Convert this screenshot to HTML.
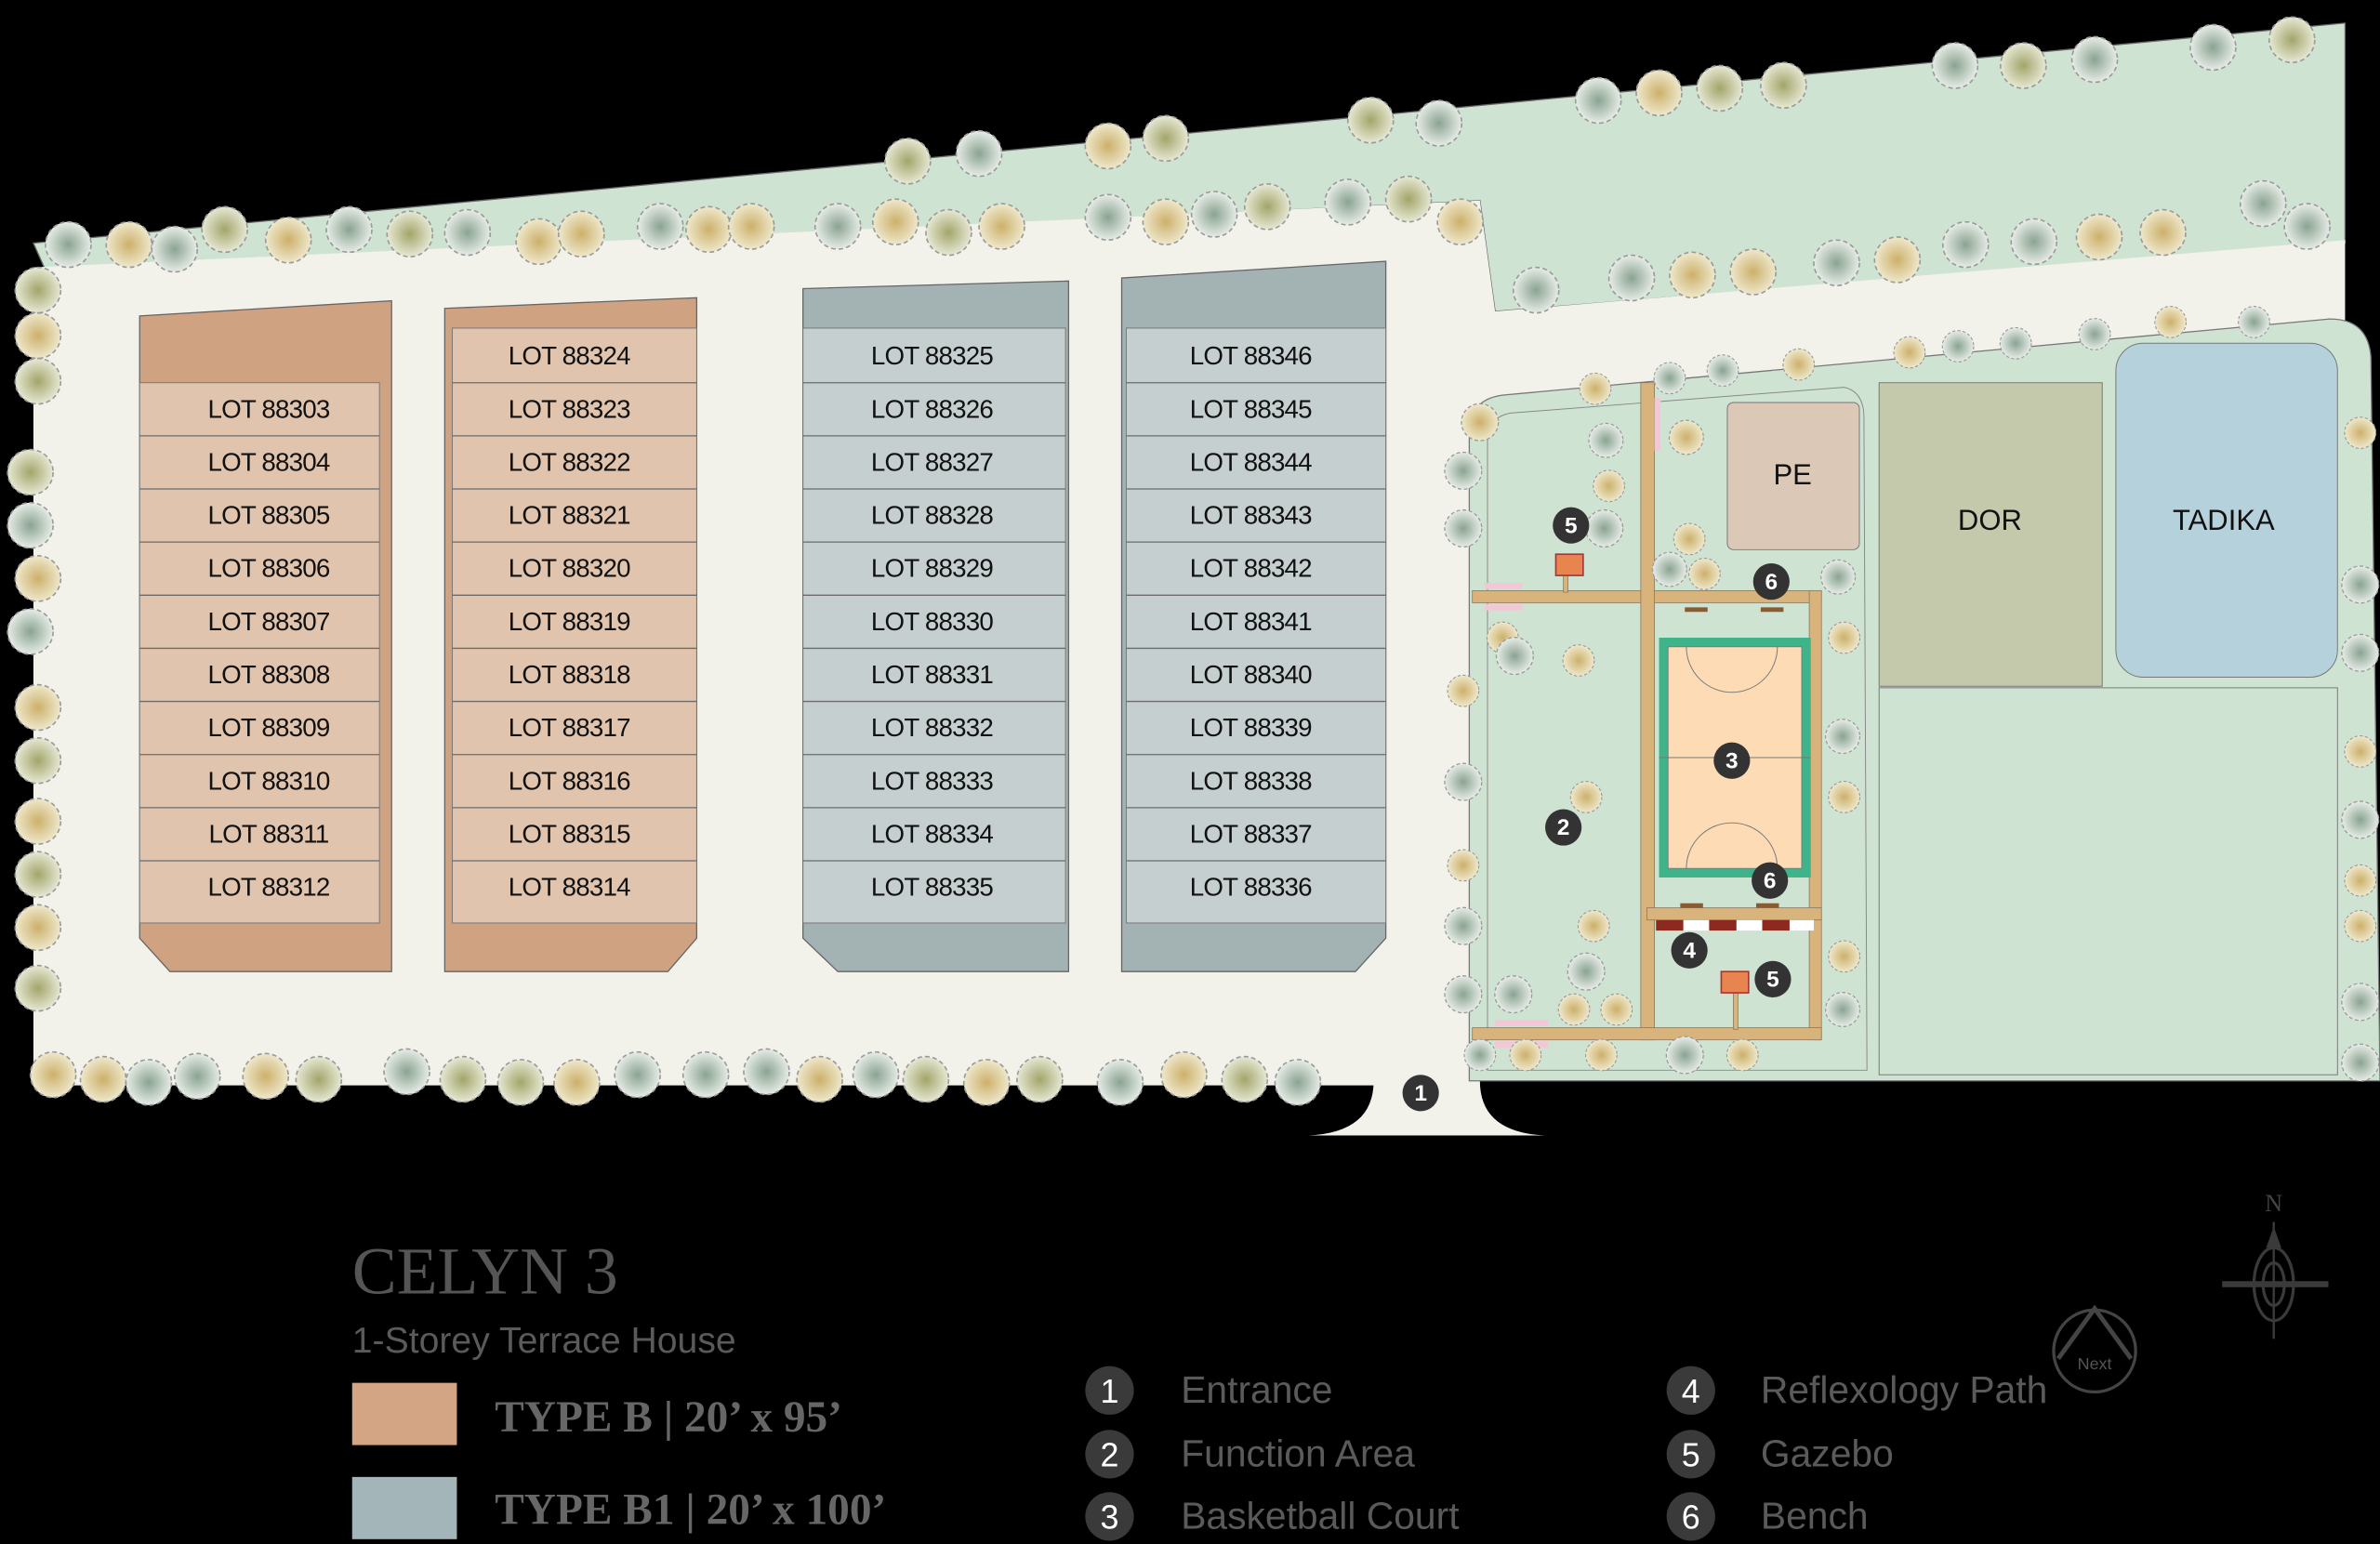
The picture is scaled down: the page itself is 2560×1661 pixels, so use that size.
<!DOCTYPE html>
<html><head><meta charset="utf-8"><style>
html,body{margin:0;padding:0;background:#000;}
svg{display:block;}
.lot{font-family:"Liberation Sans",sans-serif;font-size:17px;fill:#111;text-anchor:middle;letter-spacing:-0.5px;}
.bl{font-family:"Liberation Sans",sans-serif;font-size:19px;fill:#111;text-anchor:middle;}
.nm{font-family:"Liberation Sans",sans-serif;font-weight:bold;font-size:15px;fill:#fff;text-anchor:middle;}
.lg{font-family:"Liberation Sans",sans-serif;font-size:25px;fill:#5a5a5a;}
.ln{font-family:"Liberation Sans",sans-serif;font-size:22px;fill:#fff;text-anchor:middle;}
</style></head><body>
<svg width="2560" height="1661" viewBox="0 0 1568 1017" xmlns="http://www.w3.org/2000/svg">
<defs>
<radialGradient id="tg"><stop offset="0" stop-color="#8aa391"/><stop offset="1" stop-color="#e6ece6"/></radialGradient>
<radialGradient id="ty"><stop offset="0" stop-color="#cdb06a"/><stop offset="1" stop-color="#eee8cc"/></radialGradient>
<radialGradient id="to"><stop offset="0" stop-color="#a3a56a"/><stop offset="1" stop-color="#e6e8d4"/></radialGradient>
<symbol id="g" viewBox="-16 -16 32 32" overflow="visible"><circle r="15" fill="url(#tg)" stroke="#9a9a9a" stroke-width="1" stroke-dasharray="3 2"/></symbol>
<symbol id="y" viewBox="-16 -16 32 32" overflow="visible"><circle r="15" fill="url(#ty)" stroke="#9a9a9a" stroke-width="1" stroke-dasharray="3 2"/></symbol>
<symbol id="o" viewBox="-16 -16 32 32" overflow="visible"><circle r="15" fill="url(#to)" stroke="#9a9a9a" stroke-width="1" stroke-dasharray="3 2"/></symbol>
</defs>
<rect width="1568" height="1017" fill="#000"/>
<!-- green strip -->
<polygon points="22,160 1545,15 1545,160 985,205 975,132 30,178" fill="#cfe3d3" stroke="#666" stroke-width="0.8"/>
<!-- cream -->
<polygon points="22,176 975,132 985,205 1545,158 1545,240 968,320 968,715 22,715" fill="#f2f2eb"/>
<!-- entrance -->
<path d="M862,748 Q905,746 905,712 L975,712 Q975,746 1018,748 Z" fill="#f2f2eb"/>
<!-- park -->
<path d="M968,285 Q968,262 992,260 L1535,210 Q1560,210 1562,235 L1568,712 L968,712 Z" fill="#cfe3d3" stroke="#777" stroke-width="0.8"/>
<path d="M980,290 Q980,275 995,272 L1215,255 Q1228,258 1228,275 L1230,705 L980,705 Z" fill="none" stroke="#888" stroke-width="0.6"/>
<rect x="1138" y="265" width="87" height="97" fill="#dcc8b6" stroke="#777" stroke-width="0.6" rx="4"/>
<text class="bl" x="1181" y="319">PE</text>
<rect x="1238" y="252" width="147" height="200" fill="#c5c9ab" stroke="#777" stroke-width="0.6"/>
<text class="bl" x="1311" y="349">DOR</text>
<rect x="1394" y="226" width="146" height="220" rx="18" fill="#b5d2dc" stroke="#777" stroke-width="0.6"/>
<text class="bl" x="1465" y="349">TADIKA</text>
<rect x="1238" y="453" width="302" height="255" fill="#cfe3d3" stroke="#777" stroke-width="0.6"/>
<!-- paths -->
<g fill="#d8b37c" stroke="#8a7a60" stroke-width="0.5">
<rect x="970" y="389" width="230" height="8"/>
<rect x="1081" y="252" width="9" height="433"/>
<rect x="1192" y="389" width="8" height="296"/>
<rect x="1085" y="598" width="115" height="8"/>
<rect x="970" y="677" width="230" height="8"/>
<rect x="1030" y="375" width="3" height="15"/>
<rect x="1142" y="650" width="3" height="28"/>
</g>
<rect x="978" y="384" width="25" height="4" fill="#f3c8d6"/><rect x="978" y="398" width="25" height="4" fill="#f3c8d6"/>
<rect x="985" y="672" width="35" height="4" fill="#f3c8d6"/><rect x="985" y="686" width="35" height="4" fill="#f3c8d6"/>
<rect x="1090" y="262" width="4" height="35" fill="#f3c8d6"/>
<rect x="1025" y="365" width="18" height="14" fill="#e8844f" stroke="#a33" stroke-width="1"/>
<rect x="1134" y="640" width="18" height="14" fill="#e8844f" stroke="#a33" stroke-width="1"/>
<!-- court -->
<rect x="1093" y="420" width="100" height="158" fill="#3fb389"/>
<rect x="1099" y="426" width="88" height="146" fill="#fddcb5" stroke="#777" stroke-width="0.5"/>
<line x1="1093" y1="499" x2="1193" y2="499" stroke="#777" stroke-width="0.6"/>
<path d="M1111,426 A30,30 0 0 0 1171,426 M1111,572 A30,30 0 0 1 1171,572" fill="none" stroke="#777" stroke-width="0.6"/>
<!-- reflexology -->
<g><rect x="1091" y="606" width="104" height="7" fill="#fff"/>
<rect x="1091" y="606" width="18" height="7" fill="#8c2a1f"/><rect x="1126" y="606" width="18" height="7" fill="#8c2a1f"/><rect x="1161" y="606" width="18" height="7" fill="#8c2a1f"/></g>
<rect x="1110" y="400" width="15" height="3" fill="#8a5a30"/><rect x="1160" y="400" width="15" height="3" fill="#8a5a30"/>
<rect x="1107" y="595" width="15" height="3" fill="#8a5a30"/><rect x="1157" y="595" width="15" height="3" fill="#8a5a30"/>

<!-- block 1 -->
<polygon points="92,208 258,198 258,640 112,640 92,618" fill="#cfa282" stroke="#666" stroke-width="0.8"/>
<rect x="92" y="252" width="158" height="356" fill="#e0c4ad" stroke="#777" stroke-width="0.6"/>
<!-- block 2 -->
<polygon points="293,203 459,196 459,618 440,640 293,640" fill="#cfa282" stroke="#666" stroke-width="0.8"/>
<rect x="298" y="216" width="161" height="392" fill="#e0c4ad" stroke="#777" stroke-width="0.6"/>
<!-- block 3 -->
<polygon points="529,190 704,185 704,640 552,640 529,618" fill="#a3b3b4" stroke="#666" stroke-width="0.8"/>
<rect x="529" y="216" width="173" height="392" fill="#c5cfcf" stroke="#777" stroke-width="0.6"/>
<!-- block 4 -->
<polygon points="739,183 913,172 913,618 893,640 739,640" fill="#a3b3b4" stroke="#666" stroke-width="0.8"/>
<rect x="742" y="216" width="171" height="392" fill="#c5cfcf" stroke="#777" stroke-width="0.6"/>
<g stroke="#6b6b6b" stroke-width="0.8">
<line x1="92" y1="287" x2="250" y2="287"/><line x1="92" y1="322" x2="250" y2="322"/><line x1="92" y1="357" x2="250" y2="357"/><line x1="92" y1="392" x2="250" y2="392"/><line x1="92" y1="427" x2="250" y2="427"/><line x1="92" y1="462" x2="250" y2="462"/><line x1="92" y1="497" x2="250" y2="497"/><line x1="92" y1="532" x2="250" y2="532"/><line x1="92" y1="567" x2="250" y2="567"/>
<line x1="298" y1="252" x2="459" y2="252"/><line x1="298" y1="287" x2="459" y2="287"/><line x1="298" y1="322" x2="459" y2="322"/><line x1="298" y1="357" x2="459" y2="357"/><line x1="298" y1="392" x2="459" y2="392"/><line x1="298" y1="427" x2="459" y2="427"/><line x1="298" y1="462" x2="459" y2="462"/><line x1="298" y1="497" x2="459" y2="497"/><line x1="298" y1="532" x2="459" y2="532"/><line x1="298" y1="567" x2="459" y2="567"/>
<line x1="529" y1="252" x2="702" y2="252"/><line x1="529" y1="287" x2="702" y2="287"/><line x1="529" y1="322" x2="702" y2="322"/><line x1="529" y1="357" x2="702" y2="357"/><line x1="529" y1="392" x2="702" y2="392"/><line x1="529" y1="427" x2="702" y2="427"/><line x1="529" y1="462" x2="702" y2="462"/><line x1="529" y1="497" x2="702" y2="497"/><line x1="529" y1="532" x2="702" y2="532"/><line x1="529" y1="567" x2="702" y2="567"/>
<line x1="742" y1="252" x2="913" y2="252"/><line x1="742" y1="287" x2="913" y2="287"/><line x1="742" y1="322" x2="913" y2="322"/><line x1="742" y1="357" x2="913" y2="357"/><line x1="742" y1="392" x2="913" y2="392"/><line x1="742" y1="427" x2="913" y2="427"/><line x1="742" y1="462" x2="913" y2="462"/><line x1="742" y1="497" x2="913" y2="497"/><line x1="742" y1="532" x2="913" y2="532"/><line x1="742" y1="567" x2="913" y2="567"/>
</g>
<g class="lot">
<text x="177" y="275">LOT 88303</text><text x="177" y="310">LOT 88304</text><text x="177" y="345">LOT 88305</text><text x="177" y="380">LOT 88306</text><text x="177" y="415">LOT 88307</text><text x="177" y="450">LOT 88308</text><text x="177" y="485">LOT 88309</text><text x="177" y="520">LOT 88310</text><text x="177" y="555">LOT 88311</text><text x="177" y="590">LOT 88312</text>
<text x="375" y="240">LOT 88324</text><text x="375" y="275">LOT 88323</text><text x="375" y="310">LOT 88322</text><text x="375" y="345">LOT 88321</text><text x="375" y="380">LOT 88320</text><text x="375" y="415">LOT 88319</text><text x="375" y="450">LOT 88318</text><text x="375" y="485">LOT 88317</text><text x="375" y="520">LOT 88316</text><text x="375" y="555">LOT 88315</text><text x="375" y="590">LOT 88314</text>
<text x="614" y="240">LOT 88325</text><text x="614" y="275">LOT 88326</text><text x="614" y="310">LOT 88327</text><text x="614" y="345">LOT 88328</text><text x="614" y="380">LOT 88329</text><text x="614" y="415">LOT 88330</text><text x="614" y="450">LOT 88331</text><text x="614" y="485">LOT 88332</text><text x="614" y="520">LOT 88333</text><text x="614" y="555">LOT 88334</text><text x="614" y="590">LOT 88335</text>
<text x="824" y="240">LOT 88346</text><text x="824" y="275">LOT 88345</text><text x="824" y="310">LOT 88344</text><text x="824" y="345">LOT 88343</text><text x="824" y="380">LOT 88342</text><text x="824" y="415">LOT 88341</text><text x="824" y="450">LOT 88340</text><text x="824" y="485">LOT 88339</text><text x="824" y="520">LOT 88338</text><text x="824" y="555">LOT 88337</text><text x="824" y="590">LOT 88336</text>
</g>

<!-- trees -->
<g>
<use href="#g" x="29" y="145" width="32" height="32"/><use href="#y" x="69" y="145" width="32" height="32"/><use href="#g" x="99" y="148" width="32" height="32"/><use href="#o" x="132" y="135" width="32" height="32"/><use href="#y" x="174" y="142" width="32" height="32"/><use href="#g" x="214" y="135" width="32" height="32"/><use href="#o" x="254" y="138" width="32" height="32"/><use href="#g" x="292" y="137" width="32" height="32"/><use href="#y" x="339" y="143" width="32" height="32"/><use href="#y" x="367" y="138" width="32" height="32"/><use href="#g" x="419" y="133" width="32" height="32"/><use href="#y" x="451" y="135" width="32" height="32"/><use href="#y" x="479" y="133" width="32" height="32"/><use href="#g" x="536" y="133" width="32" height="32"/><use href="#y" x="574" y="130" width="32" height="32"/><use href="#o" x="609" y="137" width="32" height="32"/><use href="#y" x="644" y="133" width="32" height="32"/><use href="#g" x="714" y="127" width="32" height="32"/><use href="#y" x="752" y="130" width="32" height="32"/><use href="#g" x="784" y="125" width="32" height="32"/><use href="#o" x="819" y="120" width="32" height="32"/><use href="#g" x="872" y="117" width="32" height="32"/><use href="#o" x="912" y="115" width="32" height="32"/><use href="#y" x="946" y="130" width="32" height="32"/>
<use href="#o" x="582" y="90" width="32" height="32"/><use href="#g" x="629" y="85" width="32" height="32"/><use href="#y" x="714" y="80" width="32" height="32"/><use href="#o" x="752" y="75" width="32" height="32"/><use href="#o" x="887" y="63" width="32" height="32"/><use href="#g" x="932" y="65" width="32" height="32"/><use href="#g" x="1037" y="50" width="32" height="32"/><use href="#y" x="1077" y="45" width="32" height="32"/><use href="#o" x="1117" y="42" width="32" height="32"/><use href="#o" x="1159" y="40" width="32" height="32"/><use href="#g" x="1272" y="27" width="32" height="32"/><use href="#o" x="1317" y="27" width="32" height="32"/><use href="#g" x="1364" y="23" width="32" height="32"/><use href="#g" x="1442" y="15" width="32" height="32"/><use href="#o" x="1494" y="10" width="32" height="32"/>
<use href="#g" x="996" y="175" width="32" height="32"/><use href="#g" x="1059" y="167" width="32" height="32"/><use href="#y" x="1099" y="165" width="32" height="32"/><use href="#y" x="1139" y="163" width="32" height="32"/><use href="#g" x="1194" y="157" width="32" height="32"/><use href="#y" x="1234" y="155" width="32" height="32"/><use href="#g" x="1279" y="145" width="32" height="32"/><use href="#g" x="1324" y="143" width="32" height="32"/><use href="#y" x="1367" y="140" width="32" height="32"/><use href="#y" x="1409" y="137" width="32" height="32"/><use href="#g" x="1504" y="133" width="32" height="32"/><use href="#g" x="1475" y="118" width="32" height="32"/>
<use href="#o" x="9" y="175" width="32" height="32"/><use href="#y" x="9" y="205" width="32" height="32"/><use href="#o" x="9" y="235" width="32" height="32"/><use href="#o" x="4" y="295" width="32" height="32"/><use href="#g" x="4" y="330" width="32" height="32"/><use href="#y" x="9" y="365" width="32" height="32"/><use href="#g" x="4" y="400" width="32" height="32"/><use href="#y" x="9" y="450" width="32" height="32"/><use href="#o" x="9" y="485" width="32" height="32"/><use href="#y" x="9" y="525" width="32" height="32"/><use href="#o" x="9" y="560" width="32" height="32"/><use href="#y" x="9" y="595" width="32" height="32"/><use href="#o" x="9" y="635" width="32" height="32"/>
<use href="#y" x="19" y="692" width="32" height="32"/><use href="#y" x="52" y="695" width="32" height="32"/><use href="#g" x="82" y="697" width="32" height="32"/><use href="#g" x="114" y="693" width="32" height="32"/><use href="#y" x="159" y="693" width="32" height="32"/><use href="#o" x="194" y="695" width="32" height="32"/><use href="#g" x="252" y="690" width="32" height="32"/><use href="#o" x="289" y="695" width="32" height="32"/><use href="#o" x="327" y="697" width="32" height="32"/><use href="#y" x="364" y="697" width="32" height="32"/><use href="#g" x="404" y="692" width="32" height="32"/><use href="#g" x="449" y="692" width="32" height="32"/><use href="#g" x="489" y="690" width="32" height="32"/><use href="#y" x="524" y="695" width="32" height="32"/><use href="#g" x="561" y="692" width="32" height="32"/><use href="#o" x="594" y="695" width="32" height="32"/><use href="#y" x="634" y="697" width="32" height="32"/><use href="#o" x="669" y="695" width="32" height="32"/><use href="#g" x="722" y="697" width="32" height="32"/><use href="#y" x="764" y="692" width="32" height="32"/><use href="#o" x="804" y="695" width="32" height="32"/><use href="#g" x="839" y="697" width="32" height="32"/>
</g>
<g>
<use href="#y" x="962" y="265" width="26" height="26"/><use href="#g" x="951" y="297" width="26" height="26"/><use href="#g" x="951" y="335" width="26" height="26"/><use href="#y" x="1040" y="245" width="22" height="22"/><use href="#g" x="1089" y="238" width="22" height="22"/><use href="#g" x="1124" y="233" width="22" height="22"/><use href="#y" x="1174" y="229" width="22" height="22"/><use href="#y" x="1247" y="221" width="22" height="22"/><use href="#g" x="1279" y="217" width="22" height="22"/><use href="#g" x="1317" y="215" width="22" height="22"/><use href="#g" x="1369" y="209" width="22" height="22"/><use href="#y" x="1419" y="201" width="22" height="22"/><use href="#g" x="1474" y="201" width="22" height="22"/>
<use href="#g" x="1046" y="278" width="24" height="24"/><use href="#y" x="1099" y="276" width="24" height="24"/><use href="#y" x="1049" y="309" width="22" height="22"/><use href="#y" x="1102" y="344" width="22" height="22"/><use href="#g" x="1044" y="335" width="26" height="26"/><use href="#g" x="1088" y="363" width="24" height="24"/><use href="#y" x="1112" y="367" width="22" height="22"/><use href="#g" x="1199" y="368" width="24" height="24"/><use href="#y" x="1204" y="409" width="22" height="22"/><use href="#g" x="1202" y="473" width="24" height="24"/><use href="#y" x="1204" y="514" width="22" height="22"/><use href="#y" x="1204" y="619" width="22" height="22"/><use href="#g" x="1202" y="653" width="24" height="24"/>
<use href="#y" x="953" y="444" width="22" height="22"/><use href="#g" x="951" y="502" width="26" height="26"/><use href="#y" x="953" y="559" width="22" height="22"/><use href="#g" x="951" y="597" width="26" height="26"/><use href="#g" x="951" y="642" width="26" height="26"/><use href="#y" x="979" y="409" width="22" height="22"/><use href="#g" x="985" y="419" width="26" height="26"/><use href="#y" x="1029" y="424" width="22" height="22"/><use href="#y" x="1034" y="514" width="22" height="22"/><use href="#y" x="1039" y="599" width="22" height="22"/><use href="#g" x="1032" y="627" width="26" height="26"/><use href="#g" x="984" y="642" width="26" height="26"/><use href="#y" x="1026" y="654" width="22" height="22"/><use href="#y" x="1054" y="654" width="22" height="22"/><use href="#g" x="964" y="684" width="22" height="22"/><use href="#y" x="994" y="684" width="22" height="22"/><use href="#y" x="1044" y="684" width="22" height="22"/><use href="#g" x="1097" y="682" width="26" height="26"/><use href="#y" x="1137" y="684" width="22" height="22"/>
<use href="#y" x="1544" y="274" width="22" height="22"/><use href="#g" x="1542" y="372" width="26" height="26"/><use href="#g" x="1542" y="417" width="26" height="26"/><use href="#y" x="1544" y="484" width="22" height="22"/><use href="#g" x="1542" y="527" width="26" height="26"/><use href="#y" x="1544" y="569" width="22" height="22"/><use href="#y" x="1544" y="599" width="22" height="22"/><use href="#g" x="1542" y="647" width="26" height="26"/><use href="#g" x="1542" y="687" width="26" height="26"/>
</g>
<!-- markers -->
<g fill="#333">
<circle cx="936" cy="720" r="12"/><circle cx="1030" cy="545" r="12"/><circle cx="1141" cy="501" r="12"/><circle cx="1113" cy="626" r="12"/><circle cx="1035" cy="346" r="12"/><circle cx="1168" cy="645" r="12"/><circle cx="1167" cy="383" r="12"/><circle cx="1166" cy="580" r="12"/>
</g>
<g class="nm">
<text x="936" y="725">1</text><text x="1030" y="550">2</text><text x="1141" y="506">3</text><text x="1113" y="631">4</text><text x="1035" y="351">5</text><text x="1168" y="650">5</text><text x="1167" y="388">6</text><text x="1166" y="585">6</text>
</g>

<!-- legend -->
<text x="232" y="852" font-family="Liberation Serif,serif" font-size="44" fill="#555">CELYN 3</text>
<text x="232" y="891" font-family="Liberation Sans,sans-serif" font-size="24" fill="#5a5a5a">1-Storey Terrace House</text>
<rect x="232" y="911" width="69" height="41" fill="#d3a585"/>
<rect x="232" y="973" width="69" height="41" fill="#a3b5b8"/>
<text x="326" y="943" font-family="Liberation Serif,serif" font-weight="bold" font-size="29" fill="#666">TYPE B  |  20’ x 95’</text>
<text x="326" y="1004" font-family="Liberation Serif,serif" font-weight="bold" font-size="29" fill="#666">TYPE B1  |  20’ x 100’</text>
<g fill="#3a3a3a">
<circle cx="731" cy="916" r="16"/><circle cx="731" cy="958" r="16"/><circle cx="731" cy="999" r="16"/>
<circle cx="1114" cy="916" r="16"/><circle cx="1114" cy="958" r="16"/><circle cx="1114" cy="999" r="16"/>
</g>
<g class="ln"><text x="731" y="924">1</text><text x="731" y="966">2</text><text x="731" y="1007">3</text><text x="1114" y="924">4</text><text x="1114" y="966">5</text><text x="1114" y="1007">6</text></g>
<g class="lg">
<text x="778" y="924">Entrance</text><text x="778" y="966">Function Area</text><text x="778" y="1007">Basketball Court</text>
<text x="1160" y="924">Reflexology Path</text><text x="1160" y="966">Gazebo</text><text x="1160" y="1007">Bench</text>
</g>
<!-- logo -->
<circle cx="1380" cy="890" r="27" fill="none" stroke="#444" stroke-width="2"/>
<path d="M1356,895 L1380,862 L1404,895" fill="none" stroke="#444" stroke-width="3"/>
<text x="1380" y="902" font-family="Liberation Sans,sans-serif" font-size="11" fill="#555" text-anchor="middle">Next</text>
<!-- compass -->
<text x="1498" y="798" font-family="Liberation Serif,serif" font-size="16" fill="#444" text-anchor="middle">N</text>
<g stroke="#3a3a3a" fill="none">
<line x1="1498" y1="805" x2="1498" y2="882" stroke-width="1.5"/>
<line x1="1464" y1="846" x2="1534" y2="846" stroke-width="4"/>
<ellipse cx="1498" cy="846" rx="13" ry="24" stroke-width="2"/>
<ellipse cx="1498" cy="846" rx="7" ry="14" stroke-width="2"/>
</g>
<polygon points="1498,808 1493,822 1503,822" fill="#3a3a3a"/>
</svg>
</body></html>
